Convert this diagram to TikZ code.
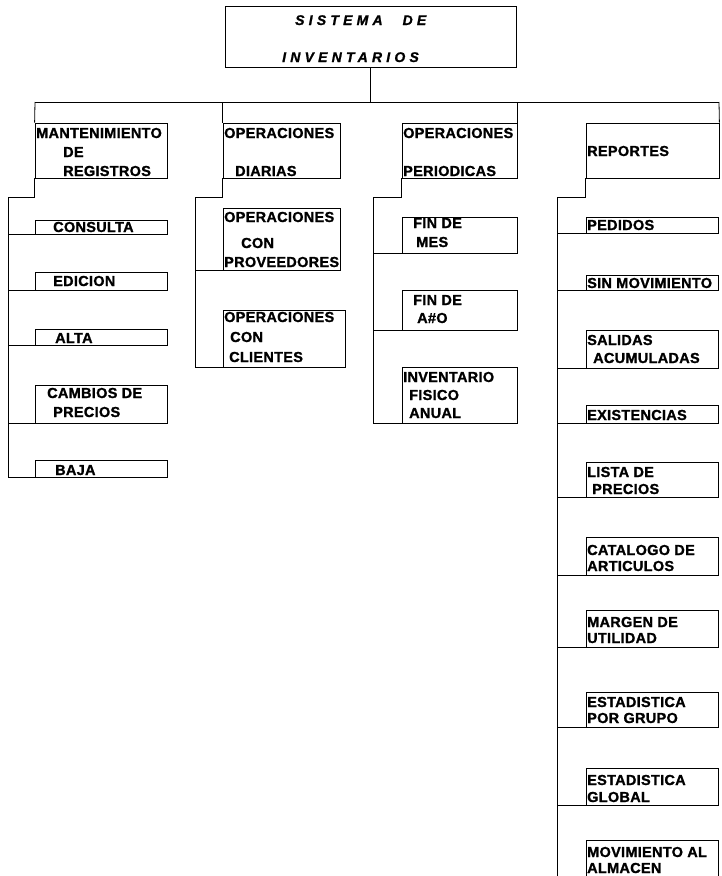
\documentclass[tikz,border=0pt]{standalone}
\usepackage{fontspec}
\usetikzlibrary{fit}
\newfontfamily\boxfont{Liberation Sans}[LetterSpace=2, BoldFont={Liberation Sans Bold}, BoldFeatures={FakeBold=1.2}]
\newfontfamily\titlefont{Liberation Sans}[LetterSpace=30, BoldItalicFont={Liberation Sans Bold Italic}, BoldItalicFeatures={FakeBold=1.2}]
\tikzset{
  ln/.style={line width=0.8pt, black},
  boxst/.style={draw, line width=0.8pt, inner sep=0pt, rectangle},
  lbl/.style={inner sep=0pt, anchor=base west, font=\boxfont\bfseries\fontsize{14.5}{15}\selectfont},
  ttl/.style={inner sep=0pt, anchor=base west, font=\titlefont\bfseries\itshape\fontsize{14}{15}\selectfont}
}
\newcommand\bx[5]{\node[boxst, fit={(#2,#3)(#4,#5)}] (#1) {};}
\newcommand\tx[4]{\node[lbl] (#1) at (#2,#3) {#4};}
\begin{document}
\begin{tikzpicture}[x=1pt,y=-1pt]
\clip (0,0) rectangle (721,876);
\fill[white] (0,0) rectangle (721,876);

% title
\bx{title}{225}{6}{516}{67}
\node[ttl] (t1) at (295,25) {SISTEMA\hspace{20pt}DE};
\node[ttl] (t2) at (282,62) {INVENTARIOS};

% bus
\coordinate (busL) at (35,102);
\coordinate (busR) at (719,102);
\draw[ln] (title.south) -- (title.south |- busL);
\draw[ln] (busL) -- (busR);

% column 1
\bx{mant}{35}{123}{167}{178}
\tx{mant1}{36}{138}{MANTENIMIENTO}
\tx{mant2}{63}{157}{DE}
\tx{mant3}{63}{176}{REGISTROS}
\bx{cons}{35}{220}{167}{234}
\tx{cons1}{53}{232}{CONSULTA}
\bx{edic}{35}{272}{167}{290}
\tx{edic1}{53}{286}{EDICION}
\bx{alta}{35}{329}{167}{345}
\tx{alta1}{55}{343}{ALTA}
\bx{camb}{35}{385}{167}{423}
\tx{camb1}{47}{398}{CAMBIOS DE}
\tx{camb2}{53}{417}{PRECIOS}
\bx{baja}{35}{460}{167}{477}
\tx{baja1}{55}{475}{BAJA}

% column 2
\bx{diar}{223}{123}{340}{178}
\tx{diar1}{224}{138}{OPERACIONES}
\tx{diar2}{235}{176}{DIARIAS}
\bx{prov}{223}{208}{340}{270}
\tx{prov1}{224}{222}{OPERACIONES}
\tx{prov2}{241}{248}{CON}
\tx{prov3}{224}{267}{PROVEEDORES}
\bx{clie}{223}{310}{345}{367}
\tx{clie1}{224}{322}{OPERACIONES}
\tx{clie2}{230}{342}{CON}
\tx{clie3}{229}{362}{CLIENTES}

% column 3
\bx{peri}{402}{123}{517}{178}
\tx{peri1}{403}{138}{OPERACIONES}
\tx{peri2}{403}{176}{PERIODICAS}
\bx{finm}{402}{217}{517}{253}
\tx{finm1}{413}{228}{FIN DE}
\tx{finm2}{416}{247}{MES}
\bx{fina}{402}{290}{517}{330}
\tx{fina1}{413}{305}{FIN DE}
\tx{fina2}{417}{323}{A\#O}
\bx{inve}{402}{367}{517}{423}
\tx{inve1}{403}{382}{INVENTARIO}
\tx{inve2}{409}{400}{FISICO}
\tx{inve3}{409}{418}{ANUAL}

% column 4
\bx{rep}{586}{123}{719}{178}
\tx{rep1}{587}{156}{REPORTES}
\bx{ped}{586}{217}{718}{233}
\tx{ped1}{587}{230}{PEDIDOS}
\bx{sinm}{586}{275}{718}{290}
\tx{sinm1}{587}{288}{SIN MOVIMIENTO}
\bx{sali}{586}{330}{718}{368}
\tx{sali1}{587}{345}{SALIDAS}
\tx{sali2}{593}{363}{ACUMULADAS}
\bx{exis}{586}{405}{718}{423}
\tx{exis1}{587}{420}{EXISTENCIAS}
\bx{list}{586}{462}{718}{497}
\tx{list1}{587}{477}{LISTA DE}
\tx{list2}{592}{494}{PRECIOS}
\bx{cata}{586}{537}{718}{575}
\tx{cata1}{587}{555}{CATALOGO DE}
\tx{cata2}{587}{571}{ARTICULOS}
\bx{marg}{586}{610}{718}{647}
\tx{marg1}{587}{627}{MARGEN DE}
\tx{marg2}{587}{643}{UTILIDAD}
\bx{epg}{586}{692}{718}{727}
\tx{epg1}{587}{707}{ESTADISTICA}
\tx{epg2}{587}{723}{POR GRUPO}
\bx{egl}{586}{768}{718}{805}
\tx{egl1}{587}{785}{ESTADISTICA}
\tx{egl2}{587}{802}{GLOBAL}
\bx{mov}{586}{840}{718}{884}
\tx{mov1}{587}{857}{MOVIMIENTO AL}
\tx{mov2}{587}{873}{ALMACEN}

% drops from bus
\draw[ln] (busL) -- (mant.north west);
\draw[ln] (diar.north west |- busL) -- (diar.north west);
\draw[ln] (peri.north east |- busL) -- (peri.north east);
\draw[ln] (busR) -- (rep.north east);

% spines
\coordinate (k1) at (8,197);
\coordinate (k2) at (195,197);
\coordinate (k3) at (373,197);
\coordinate (k4) at (557,197);
\coordinate (k4e) at (557,880);

\draw[ln] (mant.south west) |- (k1) -- (k1 |- baja.south west);
\foreach \c in {cons,edic,alta,camb,baja}
  \draw[ln] (k1 |- \c.south west) -- (\c.south west);

\draw[ln] (diar.south west) |- (k2) -- (k2 |- clie.south west);
\foreach \c in {prov,clie}
  \draw[ln] (k2 |- \c.south west) -- (\c.south west);

\draw[ln] (peri.south west) |- (k3) -- (k3 |- inve.south west);
\foreach \c in {finm,fina,inve}
  \draw[ln] (k3 |- \c.south west) -- (\c.south west);

\draw[ln] (rep.south west) |- (k4) -- (k4e);
\foreach \c in {ped,sinm,sali,exis,list,cata,marg,epg,egl}
  \draw[ln] (k4 |- \c.south west) -- (\c.south west);
\end{tikzpicture}
\end{document}
